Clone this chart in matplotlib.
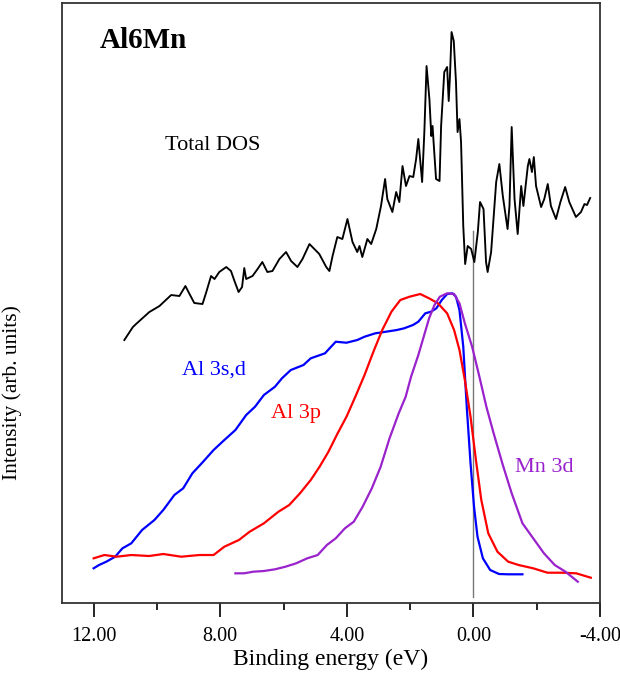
import matplotlib
matplotlib.use('Agg')
import matplotlib.pyplot as plt
from matplotlib.ticker import MultipleLocator, FormatStrFormatter

plt.rcParams['font.family'] = ['Liberation Serif', 'DejaVu Serif']
plt.rcParams['axes.unicode_minus'] = False

# total DOS (black)
tot_e = [11.03, 10.76, 10.66, 10.24, 9.92, 9.55, 9.29, 9.10, 8.97, 8.82, 8.56, 8.44, 8.29, 8.18,
         8.03, 7.81, 7.66, 7.55, 7.42, 7.31, 7.24, 7.18, 6.98, 6.82, 6.67, 6.51, 6.35, 6.13,
         5.92, 5.76, 5.56, 5.40, 5.18, 4.87, 4.65, 4.55, 4.45, 4.30, 4.14, 3.98, 3.82, 3.67,
         3.60, 3.51, 3.35, 3.23, 3.07, 2.92, 2.79, 2.72, 2.56, 2.44, 2.34, 2.24, 2.13, 2.02,
         1.90, 1.81, 1.74, 1.62, 1.55, 1.48, 1.39, 1.33, 1.29, 1.26, 1.18, 1.07, 1.02, 0.92,
         0.83, 0.78, 0.74, 0.69, 0.62, 0.55, 0.50, 0.44, 0.39, 0.32, 0.26, 0.18, 0.07, -0.03,
         -0.14, -0.21, -0.32, -0.40, -0.45, -0.56, -0.72, -0.82, -0.93, -1.08, -1.14, -1.21,
         -1.30, -1.40, -1.51, -1.58, -1.72, -1.77, -1.85, -1.91, -1.98, -2.14, -2.24, -2.35,
         -2.45, -2.61, -2.75, -2.90, -3.03, -3.24, -3.40, -3.51, -3.59, -3.69]
tot_i = [263, 276, 279, 291, 297, 308, 307, 317, 309, 300, 299, 311, 327, 324,
         331, 336, 332, 322, 311, 316, 335, 324, 327, 334, 341, 331, 332, 344,
         351, 342, 336, 344, 359, 349, 336, 332, 347, 366, 364, 384, 361, 351,
         357, 346, 364, 359, 374, 397, 424, 404, 391, 411, 401, 437, 417, 427,
         426, 444, 464, 421, 471, 537, 504, 467, 477, 462, 424, 422, 477, 531,
         536, 502, 527, 571, 562, 521, 471, 484, 461, 377, 339, 357, 354, 341,
         371, 401, 394, 341, 331, 351, 421, 439, 407, 374, 397, 476,
         404, 369, 417, 397, 437, 444, 431, 446, 417, 396, 404, 419,
         397, 384, 401, 416, 401, 386, 391, 399, 398, 405]

# Al 3s,d (blue)
sd_e = [12.00, 11.83, 11.60, 11.32, 11.09, 10.81, 10.47, 10.08, 9.80, 9.45, 9.17, 8.88, 8.54,
        8.21, 7.87, 7.52, 7.18, 6.90, 6.62, 6.27, 6.05, 5.77, 5.37, 5.14, 4.69, 4.35, 4.01,
        3.67, 3.44, 3.10, 2.76, 2.42, 2.19, 1.91, 1.74, 1.52, 1.34, 1.17, 1.00, 0.83, 0.66,
        0.55, 0.44, 0.32, 0.21, 0.09, -0.02, -0.13, -0.30, -0.53, -0.81, -1.10, -1.55]
sd_i = [34.7, 38, 41.3, 46.3, 54.7, 59.7, 73, 83, 93, 108, 114.7, 129.7, 141.3,
        153, 163, 173, 188, 196.3, 208, 216.3, 224.7, 233, 238, 244.7, 249.7, 261.3, 260.3,
        263, 266.3, 269.7, 271.3, 273, 274.7, 278, 281.3, 289.7, 291.3, 294.7, 303, 309, 309.7,
        306.3, 293, 256.3, 196.3, 139.7, 96.3, 66.3, 44.7, 33, 29, 28.7, 28.7]

# Al 3p (red)
p_e = [12.00, 11.66, 11.27, 10.81, 10.25, 9.80, 9.23, 8.66, 8.21, 7.87, 7.41, 7.07, 6.62,
       6.16, 5.82, 5.48, 5.14, 4.86, 4.58, 4.29, 4.01, 3.73, 3.44, 3.16, 2.88, 2.59, 2.31,
       2.02, 1.68, 1.40, 1.12, 0.83, 0.61, 0.44, 0.27, 0.09, -0.08, -0.25, -0.47, -0.76,
       -1.10, -1.43, -1.89, -2.34, -2.80, -3.25, -3.71]
p_i = [44.7, 48, 46.3, 48, 47, 49, 46.3, 48, 48, 56.3, 63, 71.3, 79.7,
       91.3, 98, 109.7, 123, 136.3, 151.3, 169.7, 186.3, 206.3, 228, 251.3, 273, 291.3, 303,
       306.3, 309, 304.7, 299.7, 289.7, 273, 253, 223, 186.3, 143, 103, 69.7, 51.3,
       41.3, 38, 34.7, 30.3, 30.3, 29.7, 25.3]

# Mn 3d (purple)
d_e = [7.52, 7.24, 6.96, 6.62, 6.27, 5.94, 5.60, 5.25, 4.92, 4.63, 4.35, 4.06, 3.78, 3.50,
       3.21, 2.93, 2.65, 2.36, 2.14, 1.97, 1.74, 1.57, 1.40, 1.23, 1.06, 0.83, 0.61, 0.44,
       0.27, 0.04, -0.19, -0.41, -0.64, -0.93, -1.21, -1.55, -1.89, -2.23, -2.57, -2.91, -3.30]
d_i = [29.7, 29.7, 31.3, 32, 33.7, 36.3, 39.7, 44.7, 48, 58, 64.7, 74.7, 81.3, 96.3,
       114.7, 136.3, 164.7, 189.7, 206.3, 226.3, 248, 266.3, 284.7, 298, 306.3, 309.7, 309, 299.7,
       279.7, 256.3, 226.3, 196.3, 169.7, 138, 109.7, 79.7, 64.7, 49.7, 38, 31.3, 21.3]

fig = plt.figure(figsize=(6.2, 6.73), dpi=100)
ax = fig.add_axes([0.1, 0.104, 0.8677, 0.8915])

ax.plot([0, 0], [6, 372], color='#777777', lw=1.0)
ax.plot(tot_e, tot_i, color='black', lw=1.35)
ax.plot(sd_e, sd_i, color='#0000ff', lw=1.6)
ax.plot(p_e, p_i, color='#ff0000', lw=1.6)
ax.plot(d_e, d_i, color='#9a22cc', lw=1.6)

ax.text(11.82, 563, 'Al6Mn', fontsize=21, fontweight='bold', va='center', ha='left')
ax.text(9.76, 458, 'Total DOS', fontsize=16, va='center', ha='left')
ax.text(9.2, 233, 'Al 3s,d', fontsize=16, color='#0000ff', va='center', ha='left')
ax.text(6.4, 190, 'Al 3p', fontsize=16, color='#ff0000', va='center', ha='left')
ax.text(-1.3, 136, 'Mn 3d', fontsize=16, color='#9a22cc', va='center', ha='left')

ax.set_xlim(13.0, -4.0)
ax.set_ylim(0, 600)
ax.xaxis.set_major_locator(MultipleLocator(4))
ax.xaxis.set_minor_locator(MultipleLocator(2))
ax.xaxis.set_major_formatter(FormatStrFormatter('%.2f'))
ax.tick_params(axis='x', which='major', length=10, width=1.2, direction='out', labelsize=14.5, pad=7)
ax.tick_params(axis='x', which='minor', length=5, width=1.2, direction='out')
ax.set_yticks([])
for s in ax.spines.values():
    s.set_linewidth(1.3)
    s.set_color('#333333')

ax.set_xlabel('Binding energy (eV)', fontsize=17, labelpad=2)
ax.set_ylabel('Intensity (arb. units)', fontsize=15.5)
ax.yaxis.set_label_coords(-0.074, 0.35)

fig.savefig('out.png', dpi=100)
